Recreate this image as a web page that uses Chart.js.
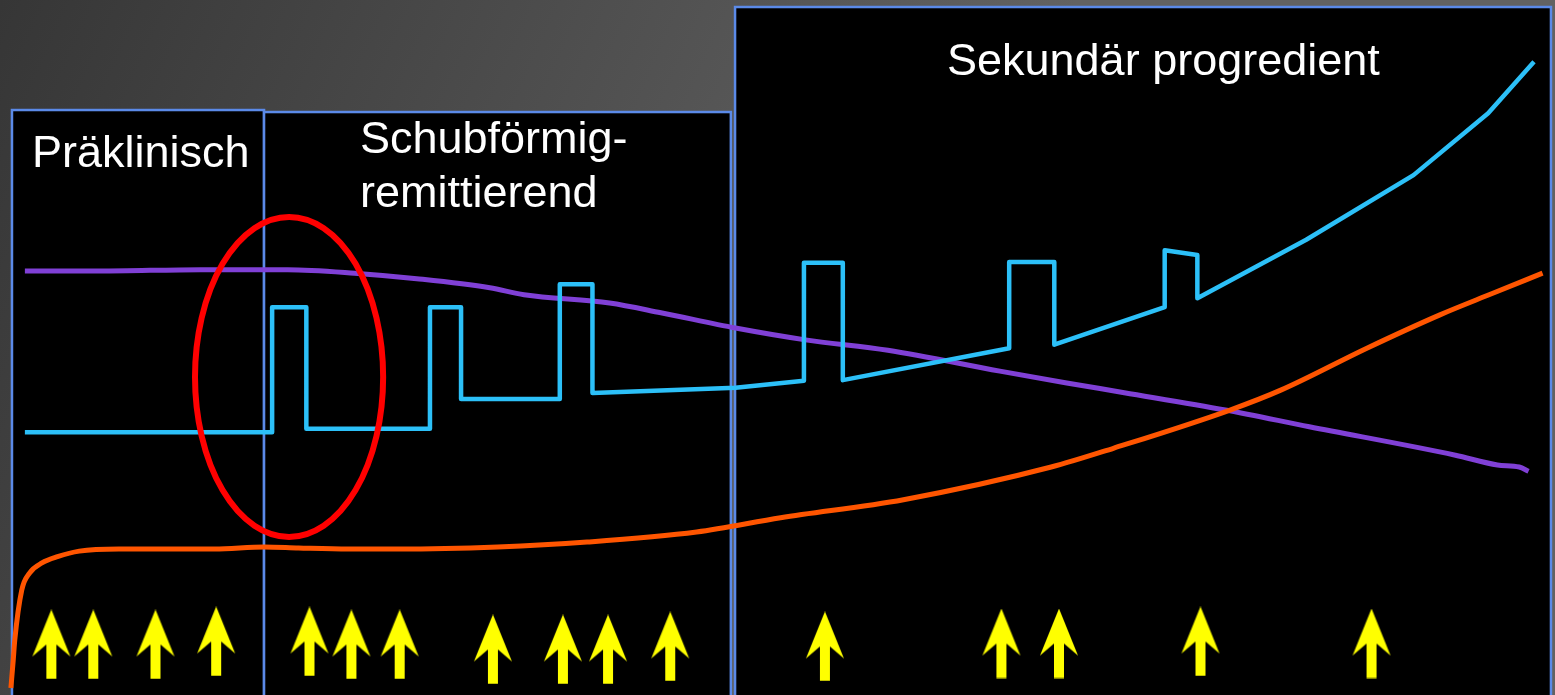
<!DOCTYPE html>
<html lang="de">
<head>
<meta charset="utf-8">
<title>Verlaufsformen der MS</title>
<script src="https://cdn.jsdelivr.net/npm/chart.js@4/dist/chart.umd.min.js"></script>
<style>
  html, body { margin: 0; padding: 0; background: #000; overflow: hidden; }
  #wrap { position: relative; width: 1555px; height: 695px; }
</style>
</head>
<body>
<div id="wrap"><canvas id="chart"></canvas></div>
<script>
// Time runs along x (0-100), intensity along y (0-100).

// Purple: brain volume / reserve
const reserveX = [1.6, 6.4, 12.9, 18.5, 22.8, 26.8, 31.5, 33.7, 39.2, 42.5, 47.3, 51.8, 57.1, 64.3, 68.6, 72.3, 78.8, 84.2, 93.6, 96.3, 97.7, 98.3];
const reserveY = [61.0, 61.0, 61.2, 61.2, 60.7, 59.9, 58.6, 57.6, 56.4, 55.0, 52.8, 51.1, 49.6, 46.6, 44.9, 43.5, 41.0, 38.6, 34.5, 33.1, 32.8, 32.2];

// Cyan: clinical disability with relapses
const disabilityX = [1.6, 17.5, 17.5, 19.7, 19.7, 27.65, 27.65, 29.65, 29.65, 36.0, 36.0, 38.1, 38.1, 47.3, 51.7, 51.7, 54.2, 54.2, 64.9, 64.9, 67.8, 67.8, 74.9, 74.9, 77.0, 77.0, 84.0, 90.9, 95.7, 98.65];
const disabilityY = [37.8, 37.8, 55.8, 55.8, 38.3, 38.3, 55.8, 55.8, 42.6, 42.6, 59.1, 59.1, 43.45, 44.2, 45.2, 62.2, 62.2, 45.3, 49.9, 62.3, 62.3, 50.4, 55.8, 64.0, 63.3, 57.1, 65.5, 74.8, 83.7, 91.1];

// Orange: accumulated lesion load
const lesionX = [0.7, 0.85, 0.95, 1.4, 1.9, 2.7, 3.7, 5.1, 7.65, 13.8, 17.0, 19.2, 22.4, 25.6, 32.0, 37.75, 44.8, 50.2, 58.1, 67.6, 71.6, 79.1, 82.4, 87.9, 92.6, 96.0, 99.2];
const lesionY = [1.0, 5.0, 7.9, 15.1, 17.55, 19.0, 19.9, 20.7, 21.0, 21.0, 21.3, 21.15, 21.0, 21.0, 21.3, 22.0, 23.45, 25.5, 28.1, 32.8, 35.5, 41.0, 43.9, 49.9, 54.7, 57.8, 60.7];

// Yellow arrows: new lesions over time
const lesionEventX = [3.3, 6.0, 10.0, 13.9, 19.9, 22.6, 25.7, 31.7, 36.2, 39.1, 43.1, 53.05, 64.4, 68.1, 77.2, 88.2];
const lesionEventY = [7.27, 7.27, 7.27, 7.7, 7.7, 7.27, 7.27, 6.55, 6.55, 6.55, 6.98, 6.98, 7.41, 7.41, 7.7, 7.41];

// Disease phases
const phaseStart = [0.77, 16.98, 47.27];
const phaseEnd = [16.98, 47.0, 99.74];
const phaseTop = [84.17, 83.88, 98.99];
const phaseTitleLines = [['Präklinisch'], ['Schubförmig-', 'remittierend'], ['Sekundär progredient']];
const phaseTitleX = [2.06, 23.15, 60.9];
const phaseTitleY = [[75.97], [77.99, 70.22], [89.21]];

// Highlighted transition into the relapsing phase
const focusCenter = [18.59, 45.76];
const focusRadius = [6.05, 23.02];

function toPoints(xs, ys) {
  return xs.map((x, i) => ({ x: x, y: ys[i] }));
}

function makeArrow() {
  const c = document.createElement('canvas');
  c.width = 40; c.height = 70;
  const g = c.getContext('2d');
  const cx = 20;
  g.fillStyle = '#ffff00';
  g.beginPath();
  g.moveTo(cx, 0);
  g.lineTo(cx + 19, 47);
  g.lineTo(cx + 5, 35);
  g.lineTo(cx + 5, 69.5);
  g.lineTo(cx - 5, 69.5);
  g.lineTo(cx - 5, 35);
  g.lineTo(cx - 19, 47);
  g.closePath();
  g.fill();
  return c;
}

const backdrop = {
  id: 'backdrop',
  beforeDraw(chart) {
    const { ctx, width, height } = chart;
    const xs = chart.scales.x, ys = chart.scales.y;
    ctx.save();
    const grad = ctx.createLinearGradient(0, 0, 900, 400);
    grad.addColorStop(0, '#363636');
    grad.addColorStop(1, '#626262');
    ctx.fillStyle = grad;
    ctx.fillRect(0, 0, width, height);

    const order = [2, 0, 1];
    order.forEach(i => {
      const l = xs.getPixelForValue(phaseStart[i]);
      const r = xs.getPixelForValue(phaseEnd[i]);
      const t = ys.getPixelForValue(phaseTop[i]);
      const b = ys.getPixelForValue(-5);
      ctx.fillStyle = '#000000';
      ctx.fillRect(l, t, r - l, b - t);
      ctx.strokeStyle = '#5b8ae8';
      ctx.lineWidth = 2.5;
      ctx.strokeRect(l, t, r - l, b - t);
    });
    ctx.restore();
  },
  beforeDatasetsDraw(chart) {
    const { ctx } = chart;
    const xs = chart.scales.x, ys = chart.scales.y;
    ctx.save();
    ctx.fillStyle = '#ffffff';
    ctx.font = '45px "Liberation Sans", Arial, sans-serif';
    ctx.textAlign = 'left';
    ctx.textBaseline = 'alphabetic';
    phaseTitleLines.forEach((lines, i) => {
      lines.forEach((line, j) => {
        ctx.fillText(line, xs.getPixelForValue(phaseTitleX[i]), ys.getPixelForValue(phaseTitleY[i][j]));
      });
    });
    ctx.restore();
  },
  afterDatasetsDraw(chart) {
    const { ctx } = chart;
    const xs = chart.scales.x, ys = chart.scales.y;
    const cx = xs.getPixelForValue(focusCenter[0]);
    const cy = ys.getPixelForValue(focusCenter[1]);
    const rx = Math.abs(xs.getPixelForValue(focusCenter[0] + focusRadius[0]) - cx);
    const ry = Math.abs(ys.getPixelForValue(focusCenter[1] + focusRadius[1]) - cy);
    ctx.save();
    ctx.strokeStyle = '#ff0000';
    ctx.lineWidth = 6;
    ctx.beginPath();
    ctx.ellipse(cx, cy, rx, ry, 0, 0, Math.PI * 2);
    ctx.stroke();
    ctx.restore();
  }
};

new Chart(document.getElementById('chart'), {
  type: 'line',
  data: {
    datasets: [
      {
        label: 'Läsionen',
        data: toPoints(lesionEventX, lesionEventY),
        showLine: false,
        pointStyle: makeArrow(),
        pointRadius: 20,
        pointHoverRadius: 20
      },
      {
        label: 'Läsionslast',
        data: toPoints(lesionX, lesionY),
        borderColor: '#ff5500',
        borderWidth: 5,
        cubicInterpolationMode: 'monotone',
        pointRadius: 0,
        fill: false
      },
      {
        label: 'Behinderung',
        data: toPoints(disabilityX, disabilityY),
        borderColor: '#2cc0f8',
        borderWidth: 4.5,
        tension: 0,
        borderJoinStyle: 'round',
        pointRadius: 0,
        fill: false
      },
      {
        label: 'Hirnvolumen',
        data: toPoints(reserveX, reserveY),
        borderColor: '#8040d6',
        borderWidth: 5,
        cubicInterpolationMode: 'monotone',
        pointRadius: 0,
        fill: false
      }
    ]
  },
  options: {
    responsive: true,
    maintainAspectRatio: false,
    animation: false,
    layout: { padding: 0, autoPadding: false },
    plugins: { legend: { display: false }, tooltip: { enabled: false } },
    events: [],
    scales: {
      x: { type: 'linear', min: 0, max: 100, display: false },
      y: { type: 'linear', min: 0, max: 100, display: false }
    }
  },
  plugins: [backdrop]
});
</script>
</body>
</html>
